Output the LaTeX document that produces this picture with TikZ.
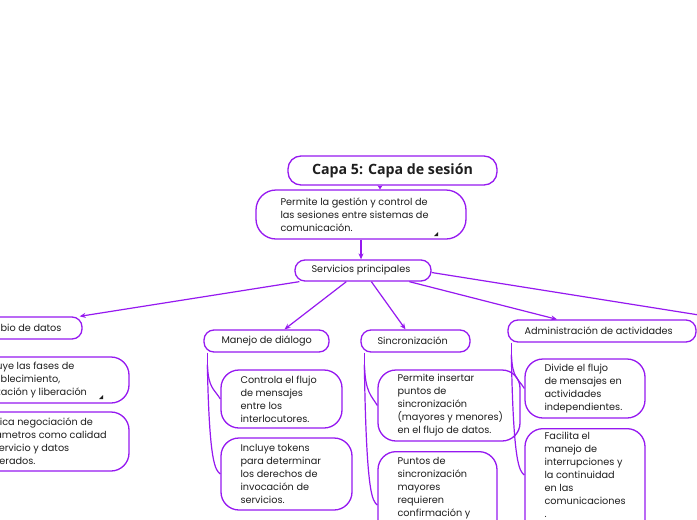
\documentclass[tikz,border=0pt]{standalone}
\usepackage{fontspec}
\setmainfont{Poppins}
\newfontfamily\ttlfont{Open Sans}
\usetikzlibrary{arrows.meta,calc}
\definecolor{pur}{RGB}{150,25,240}
\definecolor{ink}{RGB}{30,30,30}
\begin{document}
\begin{tikzpicture}[x=1pt,y=-1pt,
  box/.style={draw=pur, line width=1.3pt, rounded corners=18pt, fill=white, inner sep=0pt},
  pill/.style={box, rounded corners=10pt, minimum height=22pt},
  txt/.style={text=ink, inner sep=0pt, align=left, font=\fontsize{9.7}{13}\selectfont},
  arr/.style={draw=pur, line width=1.2pt, -{Stealth[length=6pt,width=5pt]}},
  conn/.style={draw=pur, line width=1.2pt}]
\useasboundingbox (0,0) rectangle (697,520);
\fill[white] (0,0) rectangle (697,520);
\clip (0,0) rectangle (697,520);

% top
\node[box, rounded corners=13pt, minimum width=209pt, minimum height=29pt] (title) at (392.5,170.5) {};
\node[txt, font=\ttlfont\bfseries\fontsize{14.2}{16}\selectfont] (titlet) at (title.center) {Capa 5: Capa de sesión};
\node[box, rounded corners=20pt, minimum width=210pt, minimum height=49pt] (desc) at (361,214.5) {};
\node[txt, anchor=west] (desct) at ([xshift=25pt]desc.west) {Permite la gestión y control de\\las sesiones entre sistemas de\\comunicación.};
\node[pill, minimum width=136pt, minimum height=21pt] (serv) at (363,270.5) {};
\node[txt] (servt) at ([xshift=-2pt]serv.center) {Servicios principales};

% level 2
\node[pill, minimum width=127pt] (interc) at (18.5,328) {};
\node[txt, anchor=east] (interct) at ([xshift=-21pt]interc.east) {Intercambio de datos};
\node[pill, minimum width=125pt] (m) at (266.5,341) {};
\node[txt, anchor=west] (mt) at ([xshift=18pt]m.west) {Manejo de diálogo};
\node[pill, minimum width=109pt] (s) at (415.5,341) {};
\node[txt, anchor=west] (st) at ([xshift=17pt]s.west) {Sincronización};
\node[pill, minimum width=188pt] (a) at (602,331) {};
\node[txt, anchor=west] (at) at ([xshift=17pt]a.west) {Administración de actividades};
\coordinate (offr) at (699,315);

% children
\node[box, minimum width=169pt, minimum height=46pt] (i1) at (44.5,380) {};
\node[txt, anchor=west] (i1t) at ([xshift=20pt]i1.west) {Incluye las fases de\\establecimiento,\\utilización y liberación};
\node[box, minimum width=169pt, minimum height=59pt] (i2) at (44.5,441.5) {};
\node[txt, anchor=west] (i2t) at ([xshift=19pt]i2.west) {Implica negociación de\\parámetros como calidad\\de servicio y datos\\acelerados.};
\node[box, minimum width=121pt, minimum height=58pt] (m1) at (281.5,399) {};
\node[txt, anchor=west] (m1t) at ([xshift=20pt]m1.west) {Controla el flujo\\de mensajes\\entre los\\interlocutores.};
\node[box, minimum width=131pt, minimum height=72pt] (m2) at (286.5,474) {};
\node[txt, anchor=west] (m2t) at ([xshift=20pt]m2.west) {Incluye tokens\\para determinar\\los derechos de\\invocación de\\servicios.};
\node[box, minimum width=142pt, minimum height=71pt] (s1) at (449,405.5) {};
\node[txt, anchor=west] (s1t) at ([xshift=20pt]s1.west) {Permite insertar\\puntos de\\sincronización\\(mayores y menores)\\en el flujo de datos.};
\node[box, minimum width=119pt, minimum height=120pt, anchor=north] (s2) at (437.5,451) {};
\node[txt, anchor=north west] (s2t) at ([xshift=20pt,yshift=-6pt]s2.north west) {Puntos de\\sincronización\\mayores\\requieren\\confirmación y};
\node[box, minimum width=120pt, minimum height=110pt, anchor=north] (a2) at (585,428) {};
\node[box, minimum width=120pt, minimum height=59pt] (a1) at (585,388.5) {};
\node[txt, anchor=west] (a1t) at ([xshift=20pt]a1.west) {Divide el flujo\\de mensajes en\\actividades\\independientes.};
\node[txt, anchor=north west] (a2t) at ([xshift=20pt,yshift=-4pt]a2.north west) {Facilita el\\manejo de\\interrupciones y\\la continuidad\\en las\\comunicaciones\\.};

% resize marks
\fill[ink] (434,236) -- (438,236) -- (438,232) -- cycle;
\fill[ink] (99,399) -- (103,399) -- (103,395) -- cycle;

% arrows
\draw[draw=pur, line width=1.2pt, -{Stealth[length=4pt,width=5pt]}] ([xshift=-12.5pt]title.south) -- ([xshift=19pt]desc.north);
\draw[arr] (desc.south) -- (desc.south |- serv.north);
\draw[arr] ([xshift=5pt]serv.south west) -- ([xshift=-3pt]interc.north east);
\draw[arr] ([xshift=52pt]serv.south west) -- ([xshift=18pt]m.north);
\draw[arr] ([xshift=77pt]serv.south west) -- ([xshift=-10pt]s.north);
\draw[arr] ([xshift=115pt]serv.south west) -- ([xshift=-45pt]a.north);
\draw[conn] ([yshift=-2pt]serv.east) -- (offr);

% child connectors
\draw[conn] ([xshift=4pt]m.south west) -- ++(0,12) coordinate (mB);
\draw[conn] (mB) .. controls +(1,24) and +(-6,-10) .. (m1.west);
\draw[conn] (mB) .. controls +(2,100) and +(-5,-4) .. (m2.west);
\draw[conn] ([xshift=4pt]s.south west) -- ++(0,12) coordinate (sB);
\draw[conn] (sB) .. controls +(1,28) and +(-6,-10) .. (s1.west);
\draw[conn] (sB) .. controls +(2,130) and +(-5,-4) .. ([yshift=-54pt]s2.north west);
\draw[conn] ([xshift=4pt]a.south west) -- ++(0,12) coordinate (aB);
\draw[conn] (aB) .. controls +(1,24) and +(-6,-10) .. (a1.west);
\draw[conn] (aB) .. controls +(2,110) and +(-5,-4) .. ([yshift=-47pt]a2.north west);
\end{tikzpicture}
\end{document}
